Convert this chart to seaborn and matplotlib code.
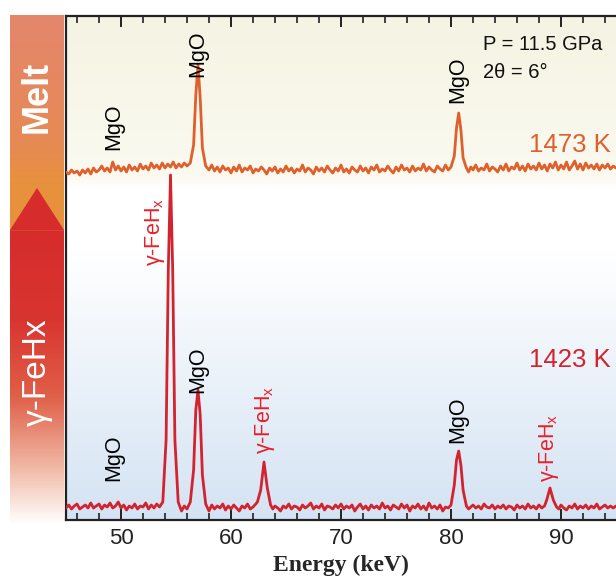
import numpy as np
import pandas as pd
import matplotlib
matplotlib.use("Agg")
import matplotlib.pyplot as plt
import seaborn as sns
from matplotlib.colors import LinearSegmentedColormap
from matplotlib.patches import Polygon
from matplotlib.ticker import MultipleLocator

# Melt spectrum (1473 K), energy in keV, intensity in arbitrary units
melt_energy = [45.0, 45.25, 45.5, 45.75, 46.0, 46.25, 46.5, 46.75, 47.0, 47.25,
               47.5, 47.75, 48.0, 48.25, 48.5, 48.75, 49.0, 49.25, 49.5, 49.75,
               50.0, 50.25, 50.5, 50.75, 51.0, 51.25, 51.5, 51.75, 52.0, 52.25,
               52.5, 52.75, 53.0, 53.25, 53.5, 53.75, 54.0, 54.25, 54.5, 54.75,
               55.0, 55.25, 55.5, 55.75, 56.0, 56.3, 56.6, 56.8, 57.0, 57.2,
               57.4, 57.7, 58.0, 58.25, 58.5, 58.75, 59.0, 59.25, 59.5, 59.75,
               60.0, 60.25, 60.5, 60.75, 61.0, 61.25, 61.5, 61.75, 62.0, 62.25,
               62.5, 62.75, 63.0, 63.25, 63.5, 63.75, 64.0, 64.25, 64.5, 64.75,
               65.0, 65.25, 65.5, 65.75, 66.0, 66.25, 66.5, 66.75, 67.0, 67.25,
               67.5, 67.75, 68.0, 68.25, 68.5, 68.75, 69.0, 69.25, 69.5, 69.75,
               70.0, 70.25, 70.5, 70.75, 71.0, 71.25, 71.5, 71.75, 72.0, 72.25,
               72.5, 72.75, 73.0, 73.25, 73.5, 73.75, 74.0, 74.25, 74.5, 74.75,
               75.0, 75.25, 75.5, 75.75, 76.0, 76.25, 76.5, 76.75, 77.0, 77.25,
               77.5, 77.75, 78.0, 78.25, 78.5, 78.75, 79.0, 79.25, 79.5, 79.75,
               80.0, 80.3, 80.5, 80.7, 80.9, 81.1, 81.4, 81.6, 81.8, 82.0,
               82.25, 82.5, 82.75, 83.0, 83.25, 83.5, 83.75, 84.0, 84.25, 84.5,
               84.75, 85.0, 85.25, 85.5, 85.75, 86.0, 86.25, 86.5, 86.75, 87.0,
               87.25, 87.5, 87.75, 88.0, 88.25, 88.5, 88.75, 89.0, 89.25, 89.5,
               89.75, 90.0, 90.25, 90.5, 90.75, 91.0, 91.25, 91.5, 91.75, 92.0,
               92.25, 92.5, 92.75, 93.0, 93.25, 93.5, 93.75, 94.0, 94.25, 94.5,
               94.75, 95.0]
melt_counts = [348, 346, 350, 347, 349, 345, 350, 347, 351, 346,
               352, 348, 350, 354, 349, 352, 348, 358, 350, 354,
               349, 353, 348, 355, 350, 353, 349, 356, 351, 354,
               350, 357, 352, 355, 351, 357, 352, 356, 353, 358,
               352, 356, 353, 357, 354, 357, 375, 425, 455, 422,
               372, 354, 350, 355, 349, 353, 348, 354, 350, 352,
               347, 353, 349, 355, 348, 352, 350, 354, 347, 351,
               349, 353, 350, 346, 352, 349, 353, 347, 351, 348,
               354, 349, 352, 347, 351, 349, 355, 348, 352, 350,
               346, 353, 349, 352, 348, 354, 350, 347, 352, 349,
               355, 348, 351, 347, 353, 350, 348, 354, 349, 352,
               347, 353, 350, 355, 348, 351, 349, 354, 350, 347,
               353, 349, 355, 350, 352, 348, 354, 349, 352, 350,
               356, 349, 353, 350, 348, 354, 351, 349, 355, 350,
               353, 364, 392, 407, 390, 362, 352, 348, 353, 350,
               355, 349, 352, 350, 356, 349, 353, 351, 348, 354,
               350, 356, 349, 353, 351, 357, 350, 354, 349, 356,
               351, 354, 350, 357, 351, 355, 349, 356, 352, 358,
               350, 355, 351, 358, 350, 354, 359, 351, 356, 350,
               357, 352, 355, 351, 356, 350, 355, 352, 356, 351,
               354, 352]

# gamma-FeHx spectrum (1423 K)
fehx_energy = [45.0, 45.25, 45.5, 45.75, 46.0, 46.25, 46.5, 46.75, 47.0, 47.25,
               47.5, 47.75, 48.0, 48.25, 48.5, 48.75, 49.0, 49.25, 49.5, 49.75,
               50.0, 50.25, 50.5, 50.75, 51.0, 51.25, 51.5, 51.75, 52.0, 52.25,
               52.5, 52.75, 53.0, 53.25, 53.5, 53.8, 54.1, 54.3, 54.5, 54.7,
               54.9, 55.2, 55.5, 55.75, 56.0, 56.3, 56.6, 56.8, 57.0, 57.2,
               57.4, 57.7, 58.0, 58.25, 58.5, 58.75, 59.0, 59.25, 59.5, 59.75,
               60.0, 60.25, 60.5, 60.75, 61.0, 61.25, 61.5, 61.75, 62.0, 62.25,
               62.4, 62.7, 63.0, 63.3, 63.6, 63.8, 64.0, 64.25, 64.5, 64.75,
               65.0, 65.25, 65.5, 65.75, 66.0, 66.25, 66.5, 66.75, 67.0, 67.25,
               67.5, 67.75, 68.0, 68.25, 68.5, 68.75, 69.0, 69.25, 69.5, 69.75,
               70.0, 70.25, 70.5, 70.75, 71.0, 71.25, 71.5, 71.75, 72.0, 72.25,
               72.5, 72.75, 73.0, 73.25, 73.5, 73.75, 74.0, 74.25, 74.5, 74.75,
               75.0, 75.25, 75.5, 75.75, 76.0, 76.25, 76.5, 76.75, 77.0, 77.25,
               77.5, 77.75, 78.0, 78.25, 78.5, 78.75, 79.0, 79.25, 79.5, 79.75,
               80.0, 80.3, 80.5, 80.7, 80.9, 81.1, 81.4, 81.6, 81.8, 82.0,
               82.25, 82.5, 82.75, 83.0, 83.25, 83.5, 83.75, 84.0, 84.25, 84.5,
               84.75, 85.0, 85.25, 85.5, 85.75, 86.0, 86.25, 86.5, 86.75, 87.0,
               87.25, 87.5, 87.75, 88.0, 88.25, 88.5, 88.7, 89.0, 89.3, 89.6,
               89.8, 90.0, 90.25, 90.5, 90.75, 91.0, 91.25, 91.5, 91.75, 92.0,
               92.25, 92.5, 92.75, 93.0, 93.25, 93.5, 93.75, 94.0, 94.25, 94.5,
               94.75, 95.0]
fehx_counts = [12, 15, 11, 14, 16, 11, 13, 15, 12, 17,
               12, 14, 16, 11, 15, 13, 17, 12, 14, 18,
               12, 15, 10, 14, 12, 16, 11, 14, 13, 17,
               11, 15, 12, 16, 13, 18, 80, 250, 345, 250,
               80, 18, 9, 14, 11, 18, 50, 110, 130, 105,
               45, 16, 9, 15, 11, 14, 12, 16, 10, 14,
               11, 15, 12, 9, 14, 12, 16, 11, 13, 16,
               18, 30, 58, 32, 15, 11, 14, 12, 9, 14,
               12, 16, 11, 14, 13, 10, 15, 12, 14, 17,
               11, 14, 12, 16, 10, 14, 13, 11, 15, 12,
               16, 11, 14, 12, 15, 9, 13, 16, 11, 14,
               10, 15, 12, 14, 11, 17, 12, 14, 10, 15,
               13, 11, 16, 12, 15, 9, 14, 12, 16, 11,
               14, 10, 17, 12, 14, 11, 15, 9, 13, 12,
               15, 35, 60, 69, 55, 30, 14, 11, 13, 15,
               12, 14, 11, 16, 13, 12, 15, 11, 14, 12,
               15, 11, 14, 13, 10, 15, 12, 14, 11, 16,
               12, 14, 11, 15, 12, 14, 20, 32, 20, 13,
               11, 15, 12, 10, 14, 12, 16, 11, 14, 12,
               15, 11, 14, 12, 16, 11, 13, 15, 12, 14,
               12, 14]

# peak annotations: (energy, y centre, text, colour)
FEHX = "γ-FeH$_\\mathregular{x}$"
peak_labels = [
    (49.3, 393, "MgO", "black"),
    (57.0, 466, "MgO", "black"),
    (80.6, 440, "MgO", "black"),
    (53.1, 288, FEHX, "#E8202A"),
    (57.0, 150, "MgO", "black"),
    (63.1, 100, FEHX, "#E8202A"),
    (80.6, 100, "MgO", "black"),
    (88.9, 72, FEHX, "#E8202A"),
    (49.3, 62, "MgO", "black"),
]

sns.set_theme(style="ticks")
plt.rcParams["font.family"] = ["Liberation Sans", "DejaVu Sans"]
plt.rcParams["mathtext.fontset"] = "custom"
plt.rcParams["mathtext.rm"] = "Liberation Sans"
plt.rcParams["mathtext.it"] = "Liberation Sans:italic"

W, H = 616, 584
fig = plt.figure(figsize=(W / 100, H / 100), dpi=100)
ax = fig.add_axes([66 / W, 64 / H, 1 - 66 / W, (520 - 16) / H])

# background gradient: cream on top, white in the middle, pale blue at bottom
bg = LinearSegmentedColormap.from_list("bg", [
    (0.0, "#D4E3F3"), (0.53, "#FFFFFF"), (0.66, "#FFFFFF"),
    (0.68, "#FBFAF1"), (1.0, "#F5F3E2")])
ax.imshow(np.linspace(0, 1, 256).reshape(-1, 1), cmap=bg, origin="lower",
          extent=[45, 95, 0, 504], aspect="auto", zorder=0)

melt = pd.DataFrame({"energy": melt_energy, "counts": melt_counts})
fehx = pd.DataFrame({"energy": fehx_energy, "counts": fehx_counts})
sns.lineplot(data=melt, x="energy", y="counts", ax=ax, color="#E0602C", lw=2.0, zorder=3)
sns.lineplot(data=fehx, x="energy", y="counts", ax=ax, color="#D2232E", lw=2.0, zorder=3)

ax.set_xlim(45, 95)
ax.set_ylim(0, 504)
ax.set_yticks([])
ax.set_ylabel("")
ax.xaxis.set_major_locator(MultipleLocator(10))
ax.xaxis.set_minor_locator(MultipleLocator(2))
ax.tick_params(axis="x", which="both", direction="in", top=True, bottom=True,
               colors="#222222", labelsize=16)
ax.tick_params(axis="x", which="major", length=8, width=1.4, pad=6)
ax.tick_params(axis="x", which="minor", length=5, width=1.2)
for side in ["left", "top", "bottom"]:
    ax.spines[side].set_linewidth(1.6)
    ax.spines[side].set_color("#222222")
ax.spines["right"].set_visible(False)
ax.set_xlabel("Energy (keV)", family="Liberation Serif", fontweight="bold",
              fontsize=17, labelpad=4)

for x, y, txt, col in peak_labels:
    ax.text(x, y, txt, rotation=90, ha="center", va="center", color=col,
            fontsize=15.5, zorder=4)

ax.text(82.9, 475, "P = 11.5 GPa", fontsize=14.5, ha="left", va="center", color="#111111")
ax.text(82.9, 447, "2θ = 6°", fontsize=14.5, ha="left", va="center", color="#111111")
ax.text(94.5, 375, "1473 K", fontsize=18.5, ha="right", va="center", color="#E0602C")
ax.text(94.5, 160, "1423 K", fontsize=18.5, ha="right", va="center", color="#D2232E")

# phase side bar
side = fig.add_axes([10 / W, (H - 525) / H, 54 / W, 510 / H])
side.set_xlim(10, 64)
side.set_ylim(525, 15)
side.axis("off")
bar = LinearSegmentedColormap.from_list("bar", [
    (0.0, "#E4866C"), (0.25, "#E68A55"), (0.33, "#E8913C"), (0.42, "#E8913C"),
    (0.421, "#D62C2C"), (0.6, "#D93530"), (0.75, "#E06048"), (0.9, "#F2C0AE"),
    (1.0, "#FFFFFF")])
side.imshow(np.linspace(0, 1, 256).reshape(-1, 1), cmap=bar,
            extent=[10, 64, 525, 15], aspect="auto", zorder=0)
side.add_patch(Polygon([[10, 230], [37, 188], [64, 230]], closed=True,
                       color="#D62C2C", lw=0, zorder=1))
side.text(37, 97, "Melt", rotation=90, ha="center", va="center", color="white",
          fontsize=26, fontweight="bold", zorder=2)
side.text(37, 372, "γ-FeHx", rotation=90, ha="center", va="center", color="white",
          fontsize=24, zorder=2)

fig.savefig("out.png", dpi=100)
